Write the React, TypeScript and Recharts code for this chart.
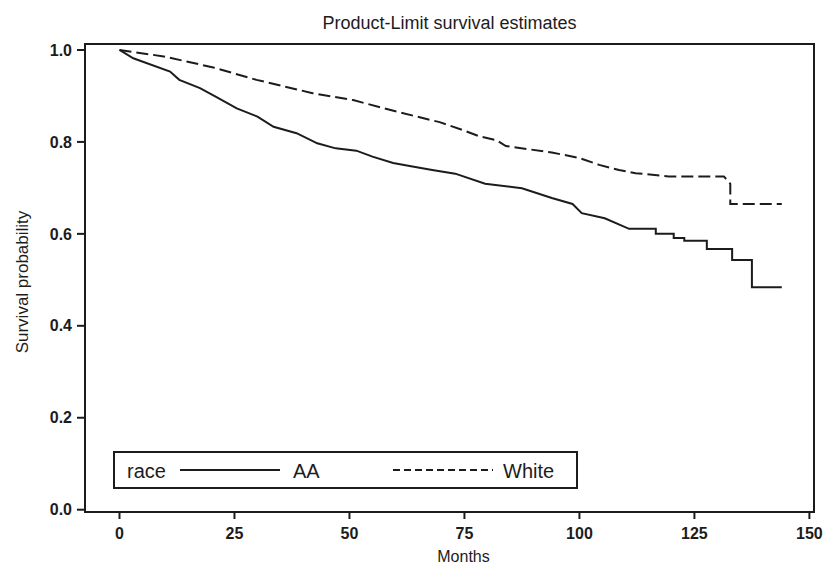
import React from 'react';
import {
  LineChart,
  Line,
  XAxis,
  YAxis,
  ReferenceArea,
  Label,
} from 'recharts';

// Kaplan-Meier estimates (months, survival)
const aaMonths = [
  0, 3, 11, 13, 17.5, 21, 25.5, 30, 33.5, 38.5, 43, 47, 51.5, 55, 59.5, 64, 68, 73,
  79.5, 87.5, 94, 98.5, 100.5, 105.5, 110.8, 116.6, 116.6, 120.5, 120.5, 122.8, 122.8,
  127.7, 127.7, 133.2, 133.2, 137.5, 137.5, 144,
];
const aaSurv = [
  1, 0.982, 0.953, 0.935, 0.917, 0.898, 0.873, 0.855, 0.833, 0.819, 0.797, 0.786, 0.781,
  0.768, 0.754, 0.746, 0.739, 0.731, 0.709, 0.699, 0.678, 0.665, 0.645, 0.634, 0.611,
  0.611, 0.6, 0.6, 0.591, 0.591, 0.585, 0.585, 0.567, 0.567, 0.543, 0.543, 0.484, 0.484,
];
const whiteMonths = [
  0, 9.6, 20.4, 29.8, 42, 50.8, 60.2, 69.6, 74.6, 78.3, 81.9, 84, 94, 100, 104.3, 108.6,
  112.2, 119.4, 131.4, 132.8, 132.8, 144,
];
const whiteSurv = [
  1, 0.986, 0.962, 0.935, 0.906, 0.891, 0.866, 0.843, 0.826, 0.812, 0.804, 0.791, 0.777,
  0.765, 0.75, 0.739, 0.732, 0.725, 0.725, 0.709, 0.665, 0.665,
];
const xTicks = [0, 25, 50, 75, 100, 125, 150];
const yTicks = [0, 0.2, 0.4, 0.6, 0.8, 1.0];
const legendLabels = ['race', 'AA', 'White'];

const aaData = aaMonths.map((m, i) => ({ m, s: aaSurv[i] }));
const whiteData = whiteMonths.map((m, i) => ({ m, s: whiteSurv[i] }));

const X_DOMAIN: [number, number] = [-7.5, 151];
const Y_DOMAIN: [number, number] = [-0.005, 1.013];
const FONT = '"Liberation Sans", Arial, sans-serif';
const INK = '#1c1c1c';

// legend box drawn over the plot, like the SAS inset legend
const LegendBox = () => (
  <div
    style={{
      position: 'absolute',
      left: 113,
      top: 451,
      width: 465,
      height: 38,
      border: `2px solid ${INK}`,
      boxSizing: 'border-box',
      background: '#fff',
    }}
  >
    <svg width={461} height={34} style={{ display: 'block' }}>
      <g fontFamily={FONT} fontSize={20} fill={INK}>
        <text x={12} y={25}>{legendLabels[0]}</text>
        <line x1={65} x2={165} y1={17} y2={17} stroke={INK} strokeWidth={2} />
        <text x={178} y={25}>{legendLabels[1]}</text>
        <line x1={278} x2={378} y1={17} y2={17} stroke={INK} strokeWidth={2} strokeDasharray="7 4" />
        <text x={388} y={25}>{legendLabels[2]}</text>
      </g>
    </svg>
  </div>
);

const SurvivalChart = () => {
  return (
    <div style={{ position: 'absolute', left: 0, top: 0, width: 825, height: 567, background: '#fff' }}>
      <div
        style={{
          position: 'absolute',
          left: 85,
          width: 729,
          top: 13,
          textAlign: 'center',
          fontFamily: FONT,
          fontSize: 18,
          color: INK,
          lineHeight: '20px',
        }}
      >
        Product-Limit survival estimates
      </div>
      <LineChart
        width={825}
        height={567}
        margin={{ top: 44, right: 11, left: 20, bottom: 20 }}
        style={{ position: 'absolute', left: 0, top: 0 }}
      >
        <XAxis
          type="number"
          dataKey="m"
          domain={X_DOMAIN}
          ticks={xTicks}
          allowDataOverflow
          height={35}
          tickSize={7}
          tickMargin={9}
          stroke={INK}
          strokeWidth={2}
          tick={{ fill: INK, fontSize: 16, fontWeight: 'bold', fontFamily: FONT }}
        >
          <Label
            content={(props: any) => {
              const vb = props.viewBox;
              return (
                <text
                  x={vb.x + vb.width / 2 + 14}
                  y={vb.y + vb.height + 15}
                  textAnchor="middle"
                  fontFamily={FONT}
                  fontSize={16}
                  fill={INK}
                >
                  Months
                </text>
              );
            }}
          />
        </XAxis>
        <YAxis
          type="number"
          dataKey="s"
          domain={Y_DOMAIN}
          ticks={yTicks}
          allowDataOverflow
          width={65}
          tickSize={8}
          tickMargin={5}
          stroke={INK}
          strokeWidth={2}
          tickFormatter={(v: number) => v.toFixed(1)}
          tick={{ fill: INK, fontSize: 16, fontWeight: 'bold', fontFamily: FONT }}
        >
          <Label
            content={(props: any) => {
              const vb = props.viewBox;
              const cx = 22;
              const cy = vb.y + vb.height / 2 + 4;
              return (
                <text
                  x={cx}
                  y={cy}
                  transform={`rotate(-90 ${cx} ${cy})`}
                  textAnchor="middle"
                  dominantBaseline="central"
                  fontFamily={FONT}
                  fontSize={17}
                  fill={INK}
                >
                  Survival  probability
                </text>
              );
            }}
          />
        </YAxis>
        <ReferenceArea
          x1={X_DOMAIN[0]}
          x2={X_DOMAIN[1]}
          y1={Y_DOMAIN[0]}
          y2={Y_DOMAIN[1]}
          fill="none"
          stroke={INK}
          strokeWidth={2}
          fillOpacity={0}
        />
        <Line
          data={aaData}
          dataKey="s"
          name="AA"
          type="linear"
          stroke={INK}
          strokeWidth={2}
          dot={false}
          isAnimationActive={false}
        />
        <Line
          data={whiteData}
          dataKey="s"
          name="White"
          type="linear"
          stroke={INK}
          strokeWidth={2}
          strokeDasharray="12 5"
          dot={false}
          isAnimationActive={false}
        />
      </LineChart>
      <LegendBox />
    </div>
  );
};

export default SurvivalChart;
